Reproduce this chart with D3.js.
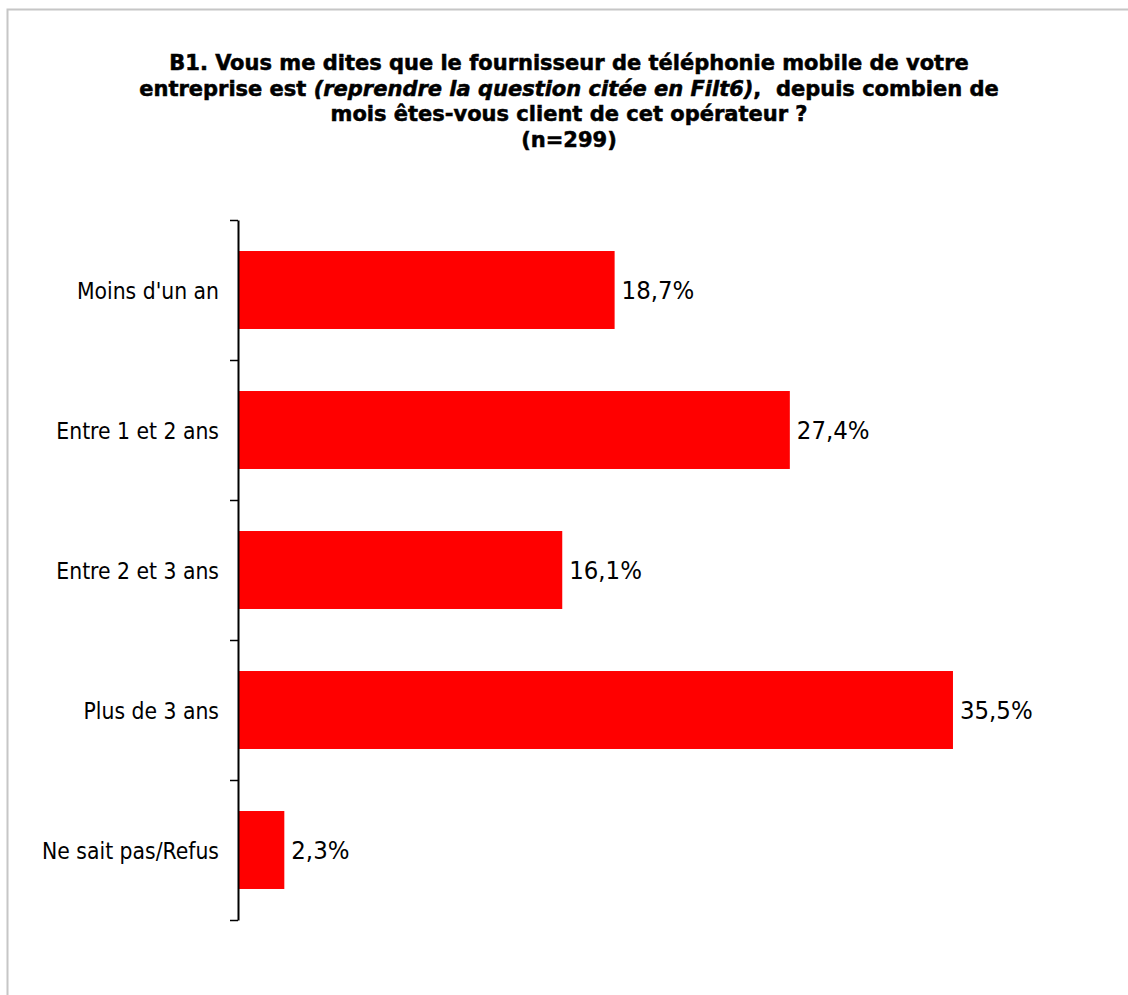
<!DOCTYPE html>
<html><head><meta charset="utf-8">
<script src="https://cdn.jsdelivr.net/npm/d3@7"></script>
<style>
html,body{margin:0;padding:0;background:#fff;}
svg{display:block;}
text{font-family:"DejaVu Sans Condensed","DejaVu Sans",Verdana,sans-serif;fill:#000;}
</style></head><body>
<svg id="chart" width="1128" height="995"></svg>
<script>
const categories = ["Moins d'un an","Entre 1 et 2 ans","Entre 2 et 3 ans","Plus de 3 ans","Ne sait pas/Refus"];
const values = [18.7, 27.4, 16.1, 35.5, 2.3];
const valueLabels = ["18,7%","27,4%","16,1%","35,5%","2,3%"];
const titleLines = [
  [{t:"B1. Vous me dites que le fournisseur de téléphonie mobile de votre"}],
  [{t:"entreprise est "},{t:"(reprendre la question citée en Filt6)",i:true},{t:",\u00a0 depuis combien de"}],
  [{t:"mois êtes-vous client de cet opérateur ?"}],
  [{t:"(n=299)"}]
];

(function(){
const svg = d3.select("#chart");
svg.append("rect").attr("x",7.5).attr("y",9.5).attr("width",1300).attr("height",1200)
  .attr("fill","#fff").attr("stroke","#c6c6c6").attr("stroke-width",2);

const axisX = 238, plotTop = 220, plotBottom = 920;
const x = d3.scaleLinear().domain([0,40]).range([axisX, axisX + 40*20.14]);
const y = d3.scaleBand().domain(categories).range([plotTop,plotBottom]).paddingInner(0.443).paddingOuter(0.2215);

const CAP = 0.729; // DejaVu cap-height ratio
function fitSize(str, targetW, weight, base){
  const t = svg.append("text").attr("font-size",base).attr("font-weight",weight||"normal").text(str);
  const w = t.node().getComputedTextLength();
  t.remove();
  return base*targetW/w;
}

// title
const tSize = fitSize(titleLines[0][0].t, 800, "bold", 20);
const tScale = 15.6/(CAP*tSize);
const baselines = [70, 95.5, 121, 146.5];
titleLines.forEach((line,li)=>{
  const t = svg.append("text").attr("text-anchor","middle").attr("font-weight","bold")
    .attr("font-size",tSize).attr("stroke","#000").attr("stroke-width",0.55)
    .attr("transform",`translate(569,${baselines[li]}) scale(1,${tScale})`);
  line.forEach(seg=>{
    const s = t.append("tspan").text(seg.t);
    if(seg.i) s.attr("font-style","italic");
  });
});

// bars
svg.append("g").selectAll("rect").data(categories).join("rect")
  .attr("x", x(0)).attr("y", d=>y(d))
  .attr("width", (d,i)=>x(values[i])-x(0)).attr("height", y.bandwidth())
  .attr("fill","#ff0000");

// axis with ticks at band boundaries
const yb = d3.scaleLinear().domain([0,categories.length]).range([plotTop,plotBottom]);
const ax = svg.append("g").attr("transform",`translate(${axisX},0)`)
  .call(d3.axisLeft(yb).tickValues(d3.range(categories.length+1)).tickFormat("").tickSizeInner(8).tickSizeOuter(0));
ax.select(".domain").attr("stroke","#000").attr("stroke-width",2);
ax.selectAll(".tick line").attr("stroke","#000").attr("stroke-width",1.5);

// category labels
const cSize = fitSize("Ne sait pas/Refus", 177, "normal", 20);
const cScale = 16.4/(CAP*cSize);
svg.append("g").selectAll("text").data(categories).join("text")
  .attr("transform", d=>`translate(${axisX-19},${y(d)+y.bandwidth()/2+9.3}) scale(1,${cScale})`)
  .attr("text-anchor","end").attr("font-size",cSize)
  .text(d=>d);

// value labels
const vSize = fitSize("35,5%", 72.7, "normal", 20);
const vScale = 18.2/(CAP*vSize);
svg.append("g").selectAll("text").data(categories).join("text")
  .attr("transform", (d,i)=>`translate(${x(values[i])+7},${y(d)+y.bandwidth()/2+9.2}) scale(1,${vScale})`)
  .attr("font-size",vSize)
  .text((d,i)=>valueLabels[i]);
})();
</script>
</body></html>
